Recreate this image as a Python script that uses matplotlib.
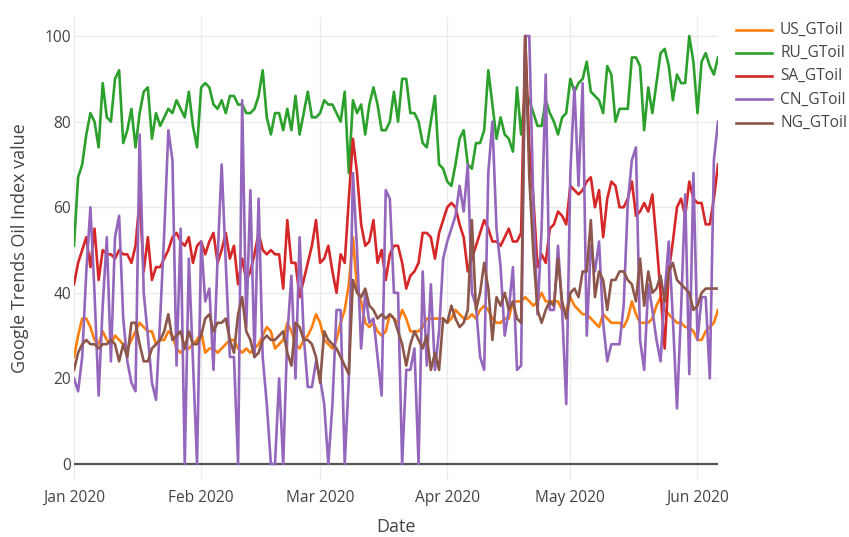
import matplotlib
matplotlib.use("Agg")
import matplotlib.pyplot as plt
import matplotlib.dates as mdates
from matplotlib.lines import Line2D
import pandas as pd

plt.rcParams["font.family"] = ["Open Sans", "DejaVu Sans"]

# Daily Google Trends oil-interest index, 1 Jan - 6 Jun 2020
dates = pd.date_range("2020-01-01", "2020-06-06", freq="D")

us_gtoil = [25, 30, 34, 34, 32, 29, 28, 31, 29, 28, 30, 29, 28, 27, 29, 31, 33, 32, 31, 31, 28, 29, 29, 31, 30,
            27, 26, 27, 27, 28, 29, 31, 26, 27, 27, 26, 27, 28, 29, 29, 27, 26, 27, 26, 27, 28, 30, 32, 31, 27,
            28, 29, 33, 31, 28, 27, 29, 30, 32, 35, 33, 29, 28, 27, 29, 33, 36, 42, 53, 41, 38, 33, 32, 33, 31, 30,
            31, 35, 34, 33, 36, 34, 31, 31, 31, 32, 34, 34, 34, 34, 34, 33, 34, 36, 35, 34, 34, 35, 34, 36, 37, 36,
            34, 33, 33, 34, 34, 38, 38, 38, 39, 38, 37, 38, 40, 38, 38, 38, 38, 36, 36, 39, 37, 36, 35, 35, 34, 33,
            32, 35, 34, 33, 33, 33, 32, 34, 38, 35, 33, 33, 33, 34, 37, 39, 36, 35, 34, 33, 33, 32, 32, 31, 29, 29, 31, 32, 33, 36]

ru_gtoil = [51, 67, 70, 77, 82, 80, 74, 89, 81, 80, 90, 92, 75, 78, 83, 74, 82, 87, 88, 76, 82, 79, 81, 83, 82,
            85, 83, 81, 87, 79, 74, 88, 89, 88, 84, 83, 85, 82, 86, 86, 84, 84, 82, 82, 83, 86, 92, 81, 77, 82,
            82, 78, 83, 78, 86, 77, 82, 87, 81, 81, 82, 85, 84, 84, 82, 80, 87, 68, 85, 82, 84, 77, 84, 88, 84, 78,
            78, 80, 87, 80, 90, 90, 82, 82, 80, 75, 74, 80, 86, 70, 69, 66, 65, 70, 76, 78, 70, 69, 75, 75, 78, 92,
            84, 76, 81, 77, 76, 73, 88, 77, 87, 85, 82, 79, 79, 85, 82, 80, 77, 81, 82, 90, 87, 89, 90, 94, 87, 86,
            85, 82, 93, 91, 80, 83, 83, 83, 95, 95, 93, 78, 88, 82, 89, 96, 97, 93, 85, 91, 89, 89, 100, 94, 82, 94, 96, 93, 91, 95]

sa_gtoil = [42, 47, 50, 53, 46, 55, 43, 50, 49, 49, 48, 50, 49, 49, 47, 51, 62, 45, 53, 43, 46, 46, 48, 50, 53,
            54, 52, 51, 53, 47, 51, 52, 49, 52, 54, 47, 50, 54, 48, 51, 42, 48, 43, 45, 49, 54, 50, 49, 50, 49,
            49, 41, 57, 47, 47, 39, 43, 47, 51, 57, 47, 48, 51, 45, 40, 49, 47, 62, 76, 68, 56, 51, 52, 57, 47, 50,
            43, 49, 51, 51, 47, 41, 44, 45, 47, 54, 54, 53, 48, 54, 57, 60, 61, 60, 56, 53, 45, 48, 51, 54, 57, 55,
            52, 52, 51, 53, 55, 52, 52, 54, 100, 74, 62, 46, 49, 47, 55, 56, 59, 58, 56, 65, 64, 63, 64, 66, 67, 60,
            64, 53, 62, 66, 65, 60, 60, 62, 66, 58, 59, 61, 59, 63, 52, 40, 27, 45, 52, 60, 62, 58, 66, 62, 61, 61, 56, 56, 62, 70]

cn_gtoil = [20, 17, 25, 45, 60, 40, 16, 37, 53, 24, 53, 58, 34, 24, 19, 17, 77, 40, 30, 19, 15, 34, 54, 78, 71,
            23, 55, 0, 48, 24, 0, 52, 38, 41, 22, 48, 70, 47, 25, 25, 0, 85, 32, 64, 25, 62, 25, 14, 0, 0,
            20, 0, 30, 44, 20, 53, 30, 18, 18, 24, 20, 14, 0, 14, 36, 36, 0, 20, 68, 50, 27, 40, 33, 34, 25, 16,
            64, 62, 40, 40, 0, 22, 22, 27, 0, 45, 23, 42, 22, 31, 48, 52, 55, 58, 65, 59, 70, 40, 37, 25, 22, 68,
            80, 55, 46, 30, 36, 46, 22, 23, 100, 100, 60, 35, 55, 91, 36, 36, 51, 36, 14, 68, 88, 65, 89, 30, 51, 45,
            52, 33, 24, 28, 28, 28, 37, 61, 71, 74, 29, 22, 42, 36, 29, 24, 40, 52, 34, 13, 36, 63, 21, 68, 29, 39, 39, 20, 71, 80]

ng_gtoil = [22, 26, 28, 29, 28, 28, 27, 28, 28, 29, 28, 24, 28, 25, 33, 33, 28, 24, 24, 27, 28, 29, 31, 35, 29,
            30, 31, 27, 31, 28, 28, 30, 34, 35, 31, 33, 33, 34, 29, 26, 35, 39, 31, 29, 25, 26, 29, 30, 29, 29,
            30, 31, 26, 23, 33, 32, 29, 29, 28, 25, 19, 31, 29, 28, 27, 25, 23, 21, 43, 40, 39, 41, 37, 36, 34, 35,
            34, 35, 34, 31, 28, 23, 28, 31, 29, 27, 30, 22, 26, 22, 34, 33, 37, 34, 32, 33, 36, 57, 36, 40, 47, 41,
            29, 39, 37, 40, 36, 38, 34, 33, 100, 67, 49, 36, 33, 36, 38, 37, 48, 38, 34, 40, 41, 39, 45, 45, 57, 39,
            45, 43, 36, 43, 43, 45, 45, 43, 42, 38, 48, 37, 45, 40, 41, 44, 38, 45, 47, 43, 42, 41, 40, 36, 37, 40, 41, 41, 41, 41]

series_names = ["US_GToil", "RU_GToil", "SA_GToil", "CN_GToil", "NG_GToil"]
series_colors = ["#ff7f0e", "#2ca02c", "#d62728", "#9467bd", "#8c564b"]

df = pd.DataFrame({"US_GToil": us_gtoil, "RU_GToil": ru_gtoil, "SA_GToil": sa_gtoil,
                   "CN_GToil": cn_gtoil, "NG_GToil": ng_gtoil}, index=dates)

W, H = 849, 537
fig = plt.figure(figsize=(W / 100, H / 100), dpi=100)
fig.patch.set_facecolor("white")
ax = fig.add_axes([74 / W, 1 - 480.3 / H, 644 / W, 463.5 / H])

text_color = "#444444"
grid_color = "#ebebeb"

for name, color in zip(series_names, series_colors):
    ax.plot(df.index, df[name], color=color, lw=1.9, zorder=3, solid_joinstyle="round")

ax.axhline(0, color="#555555", lw=1.6, zorder=2)

ax.set_xlim(dates[0], dates[-1])
ax.set_ylim(-3.8, 104.5)
ax.set_yticks([0, 20, 40, 60, 80, 100])
ax.xaxis.set_major_locator(mdates.MonthLocator())
ax.xaxis.set_major_formatter(mdates.DateFormatter("%b %Y"))

ax.grid(True, color=grid_color, lw=1, zorder=0)
ax.set_axisbelow(True)
for sp in ax.spines.values():
    sp.set_visible(False)
ax.tick_params(axis="both", length=0, labelsize=11.2, labelcolor=text_color)
ax.tick_params(axis="y", pad=2)
ax.tick_params(axis="x", pad=7)

fig.text(20 / W, 1 - 248 / H, "Google Trends Oil Index value", rotation=90,
         ha="center", va="center", fontsize=13, color=text_color)
fig.text(396 / W, 1 - 527 / H, "Date", ha="center", va="center", fontsize=13, color=text_color)

# Legend entries to the right of the plot area
for i, (name, color) in enumerate(zip(series_names, series_colors)):
    yy = 1 - (29.5 + 23.3 * i) / H
    fig.add_artist(Line2D([736 / W, 772 / W], [yy, yy], transform=fig.transFigure,
                          color=color, lw=1.9))
    fig.text(780 / W, yy, name, ha="left", va="center", fontsize=11.2, color=text_color)

fig.savefig("out.png", dpi=100, facecolor="white")
